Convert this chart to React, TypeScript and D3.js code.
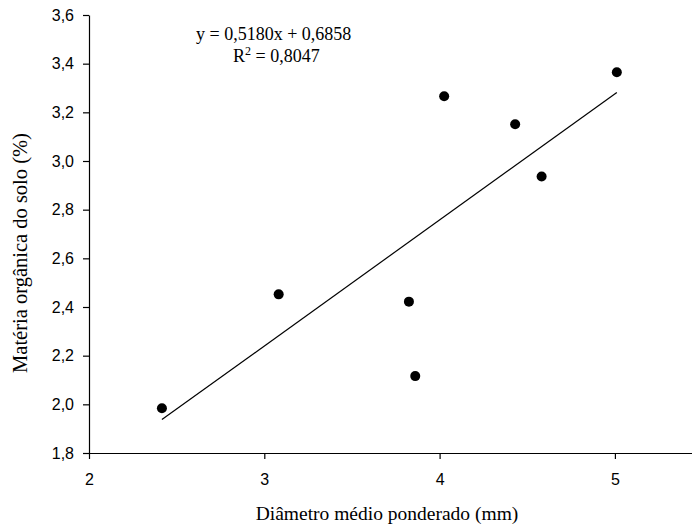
import React, { useEffect, useRef } from 'react'
import * as d3 from 'd3'

// diâmetro médio ponderado (mm)
const dmp = [2.416, 3.082, 3.825, 3.861, 4.026, 4.431, 4.582, 5.011]
// matéria orgânica do solo (%)
const mo = [1.984, 2.452, 2.422, 2.116, 3.266, 3.151, 2.936, 3.365]
const xTicks = [2, 3, 4, 5]
const yTicks = [1.8, 2.0, 2.2, 2.4, 2.6, 2.8, 3.0, 3.2, 3.4, 3.6]
const slope = 0.518
const intercept = 0.6858

const W = 692
const H = 527

const App = () => {
    const ref = useRef<SVGGElement>(null)

    useEffect(() => {
        const g = d3.select(ref.current)
        g.selectAll('*').remove()

        const margin = { top: 15, right: 0, bottom: 74, left: 89 }
        const innerWidth = W - margin.left - margin.right
        const innerHeight = H - margin.top - margin.bottom

        const x = d3.scaleLinear().domain([2, 2 + innerWidth / 175.3]).range([0, innerWidth])
        const y = d3.scaleLinear().domain([1.8, 3.6]).range([innerHeight, 0])

        const plot = g.append('g').attr('transform', `translate(${margin.left},${margin.top})`)

        const fmt = (d: number) => d3.format('.1f')(d).replace('.', ',')

        const xAxis = plot.append('g')
            .attr('transform', `translate(0,${innerHeight})`)
            .call(d3.axisBottom(x).tickValues(xTicks).tickFormat(d3.format('d')).tickSize(6).tickSizeOuter(0))
        const yAxis = plot.append('g')
            .call(d3.axisLeft(y).tickValues(yTicks).tickFormat(fmt as any).tickSize(6).tickSizeOuter(0))

        for (const ax of [xAxis, yAxis]) {
            ax.selectAll('line').attr('stroke', '#000').attr('stroke-width', 1.2)
            ax.select('.domain').attr('stroke', '#000').attr('stroke-width', 1.2)
            ax.selectAll('text')
                .attr('fill', '#000')
                .attr('font-family', 'Liberation Sans, Arial, sans-serif')
                .attr('font-size', 16)
        }
        xAxis.selectAll('text').attr('dy', null).attr('y', 32)
        yAxis.selectAll('text').attr('x', -15)

        // regression line over the data range
        const [x0, x1] = d3.extent(dmp) as [number, number]
        plot.append('path')
            .attr('d', d3.line<number>().x(d => x(d)).y(d => y(slope * d + intercept))([x0, x1]))
            .attr('stroke', '#000')
            .attr('stroke-width', 1.2)
            .attr('fill', 'none')

        plot.selectAll('circle')
            .data(dmp)
            .enter().append('circle')
            .attr('cx', d => x(d))
            .attr('cy', (d, i) => y(mo[i]))
            .attr('r', 5)
            .attr('fill', '#000')

        const serif = 'Liberation Serif, Times New Roman, serif'

        // equation
        g.append('text')
            .attr('x', 196).attr('y', 40)
            .attr('font-family', serif).attr('font-size', 18)
            .text(`y = ${String(slope.toFixed(4)).replace('.', ',')}x + ${String(intercept.toFixed(4)).replace('.', ',')}`)
        const r2 = g.append('text')
            .attr('x', 233).attr('y', 62)
            .attr('font-family', serif).attr('font-size', 18)
        r2.append('tspan').text('R')
        r2.append('tspan').attr('font-size', 12).attr('dy', -7).text('2')
        r2.append('tspan').attr('dy', 7).text(' = 0,8047')

        g.append('text')
            .attr('x', 387)
            .attr('y', 520)
            .attr('text-anchor', 'middle')
            .attr('font-family', serif).attr('font-size', 19.5)
            .text('Diâmetro médio ponderado (mm)')

        g.append('text')
            .attr('transform', `translate(27,253) rotate(-90)`)
            .attr('text-anchor', 'middle')
            .attr('font-family', serif).attr('font-size', 20.5)
            .text('Matéria orgânica do solo (%)')
    }, [])

    return (
        <svg width={W} height={H} style={{ position: 'absolute', left: 0, top: 0, background: '#fff' }}>
            <g ref={ref} />
        </svg>
    )
}

export default App
